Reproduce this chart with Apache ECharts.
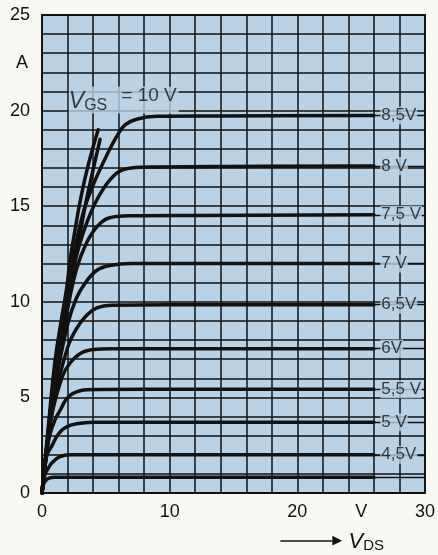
<!DOCTYPE html>
<html>
<head>
<meta charset="utf-8">
<script src="https://cdn.jsdelivr.net/npm/echarts@6/dist/echarts.min.js"></script>
<style>
  html, body { margin: 0; padding: 0; background: #faf8f2; }
  #chart { width: 438px; height: 555px; }
</style>
</head>
<body>
<div id="chart"></div>
<script>
// ---- axis ranges and tick labels ----
const xMin = 0, xMax = 30, xStep = 2;
const yMin = 0, yMax = 25, yStep = 1;
const xTickLabels = [0, 10, 20, 30];
const yTickLabels = [0, 5, 10, 15, 20, 25];
const xUnitLabel = 'V';   // shown at V_DS = 25
const xUnitPos = 25;
const yUnitLabel = 'A';   // shown at I_D = 22.5
const yUnitPos = 22.5;

// ---- output characteristics I_D (A) vs V_DS (V) ----
const vgs10 = [[0,0],[0.5,3.5],[1,6.8],[1.5,9.0],[1.95,10.8],[2.2,12.2],[2.6,13.8],[2.97,15.2],[3.6,17.1],[4.4,19.0]];
const vgs9  = [[0,0],[0.5,3.3],[1,6.4],[1.6,8.9],[2.3,11.1],[2.6,12.3],[3.1,14.0],[3.44,15.2],[4.0,16.9],[4.55,18.5]];
const vgs85 = [[0,0],[0.5,3.2],[1,6.2],[1.6,8.9],[2.4,12.2],[3.2,14.6],[4.0,16.1],[5.1,17.7],[5.9,18.7],[6.5,19.25],[7.4,19.55],[9,19.7],[14,19.72],[26,19.75]];
const vgs8  = [[0,0],[0.5,3.1],[1,6.0],[1.8,9.6],[2.7,12.4],[3.6,14.3],[4.7,15.8],[5.9,16.75],[7,17.0],[9,17.05],[14,17.08],[26,17.1]];
const vgs75 = [[0,0],[0.5,3.0],[1,5.8],[2,9.6],[2.7,11.7],[3.5,13.1],[4.4,14.0],[5.3,14.4],[7,14.5],[12,14.52],[26,14.55]];
const vgs7  = [[0,0],[0.5,2.9],[1,5.5],[2,8.8],[2.7,10.2],[3.4,11.0],[4.3,11.65],[5.3,11.9],[7,12.0],[12,12.0],[26,12.0]];
const vgs65 = [[0,0],[0.5,2.8],[1,5.0],[2,7.6],[2.7,8.6],[3.5,9.3],[4.3,9.68],[5.5,9.82],[10,9.85],[26,9.85]];
const vgs6  = [[0,0],[0.4,2.5],[0.8,4.2],[1.6,6.1],[2.2,6.8],[3,7.3],[4,7.5],[5.5,7.55],[10,7.55],[26,7.55]];
const vgs55 = [[0,0],[0.3,1.9],[0.6,3.0],[1.0,3.8],[1.4,4.3],[1.9,4.9],[2.4,5.2],[3.5,5.4],[8,5.42],[26,5.42]];
const vgs5  = [[0,0],[0.2,1.3],[0.4,2.0],[0.8,2.5],[1.3,3.1],[1.9,3.45],[2.7,3.62],[4,3.7],[8,3.7],[26,3.7]];
const vgs45 = [[0,0],[0.12,0.7],[0.25,1.0],[0.45,1.25],[0.8,1.6],[1.4,1.9],[2.2,2.0],[6,2.0],[26,2.0]];
const vgs4  = [[0,0],[0.1,0.4],[0.25,0.62],[0.5,0.76],[1,0.82],[5,0.82],[26,0.82]];

const curves = [vgs10, vgs9, vgs85, vgs8, vgs75, vgs7, vgs65, vgs6, vgs55, vgs5, vgs45, vgs4];
const curveLabels = ['', '', '8,5V', '8 V', '7,5 V', '7 V', '6,5V', '6V', '5,5 V', '5 V', '4,5V', ''];
const labelX = 26.5;     // V_DS where the curve labels start
const lineEndX = 26;     // curves end here; thin tail to xMax
const vgsTitlePos = [2.1, 20.55];

const BLUE = '#b9d2e6';
const INK = '#111111';
const FONT = 'Liberation Sans';

const series = [];
curves.forEach((d, i) => {
  const last = d[d.length - 1];
  const s = {
    type: 'line', data: d, showSymbol: false, symbol: 'none',
    smooth: 0.4,
    lineStyle: { color: INK, width: 3.5, cap: 'round', join: 'round' },
    z: 5, silent: true
  };
  if (last[0] >= lineEndX) {
    s.markLine = {
      silent: true, symbol: 'none', label: { show: false },
      lineStyle: { color: INK, width: 1.3, type: 'solid' },
      data: [[{ coord: [lineEndX, last[1]] }, { coord: [xMax, last[1]] }]]
    };
  }
  series.push(s);
});

// right-hand gate-voltage labels
const labelData = [];
curves.forEach((d, i) => {
  if (curveLabels[i]) labelData.push({ value: [labelX, d[d.length - 1][1]], name: curveLabels[i] });
});
series.push({
  type: 'scatter', data: labelData, symbolSize: 0, z: 10, silent: true,
  label: {
    show: true, position: 'right', distance: 0,
    formatter: p => p.name,
    fontFamily: FONT, fontSize: 17, color: INK,
    backgroundColor: BLUE, padding: [1, 1, 0, 1]
  }
});

// V_GS = 10 V title
series.push({
  type: 'scatter', data: [{ value: vgsTitlePos }], symbolSize: 0, z: 10, silent: true,
  label: {
    show: true, position: 'right', distance: 0,
    formatter: '{v|V}{s|GS}{g| }{e|= 10 V}',
    backgroundColor: BLUE, padding: [0, 2, 0, 0],
    rich: {
      v: { fontFamily: FONT, fontStyle: 'italic', fontSize: 23, color: INK, verticalAlign: 'bottom', lineHeight: 26 },
      s: { fontFamily: FONT, fontSize: 16, color: INK, verticalAlign: 'bottom', lineHeight: 21 },
      g: { fontSize: 10, width: 14 },
      e: { fontFamily: FONT, fontSize: 19, color: INK, verticalAlign: 'top', lineHeight: 27 }
    }
  }
});

const option = {
  backgroundColor: '#faf8f2',
  animation: false,
  grid: {
    left: 42, right: 12, top: 15, bottom: 62,
    show: true, backgroundColor: BLUE, borderColor: INK, borderWidth: 1.8
  },
  xAxis: [{
    type: 'value', min: xMin, max: xMax, interval: xStep,
    axisLine: { show: false }, axisTick: { show: false },
    splitLine: { show: true, lineStyle: { color: INK, width: 1.5 } },
    axisLabel: {
      margin: 10, fontFamily: FONT, fontSize: 18, color: INK,
      formatter: v => xTickLabels.includes(v) ? String(v) : ''
    }
  }, {
    type: 'value', min: xMin, max: xMax, interval: 5, position: 'bottom', offset: 0,
    axisLine: { show: false }, axisTick: { show: false }, splitLine: { show: false },
    axisLabel: {
      margin: 10, fontFamily: FONT, fontSize: 18, color: INK,
      formatter: v => v === xUnitPos ? xUnitLabel : ''
    },
    name: '{line| }{head|▶}{v| V}{s|DS}',
    nameLocation: 'end', nameGap: -41,
    nameTextStyle: {
      align: 'right', verticalAlign: 'top', padding: [36, 0, 0, 0],
      rich: {
        line: { width: 52, height: 1.6, backgroundColor: INK, verticalAlign: 'middle' },
        head: { fontFamily: 'DejaVu Sans', fontSize: 13, color: INK, verticalAlign: 'middle' },
        v: { fontFamily: FONT, fontStyle: 'italic', fontSize: 22, color: INK, verticalAlign: 'bottom', lineHeight: 24 },
        s: { fontFamily: FONT, fontSize: 15, color: INK, verticalAlign: 'bottom', lineHeight: 18 }
      }
    }
  }],
  yAxis: [{
    type: 'value', min: yMin, max: yMax, interval: yStep,
    axisLine: { show: false }, axisTick: { show: false },
    splitLine: { show: true, lineStyle: { color: INK, width: 1.5 } },
    axisLabel: {
      margin: 12, fontFamily: FONT, fontSize: 18, color: INK,
      formatter: v => yTickLabels.includes(v) ? String(v) : ''
    }
  }, {
    type: 'value', min: yMin, max: yMax, interval: 2.5, position: 'left', offset: 0,
    axisLine: { show: false }, axisTick: { show: false }, splitLine: { show: false },
    axisLabel: {
      margin: 14, fontFamily: FONT, fontSize: 18, color: INK,
      formatter: v => v === yUnitPos ? yUnitLabel : ''
    }
  }],
  series: series
};

const chart = echarts.init(document.getElementById('chart'), null, { renderer: 'canvas' });
chart.setOption(option);
</script>
</body>
</html>
